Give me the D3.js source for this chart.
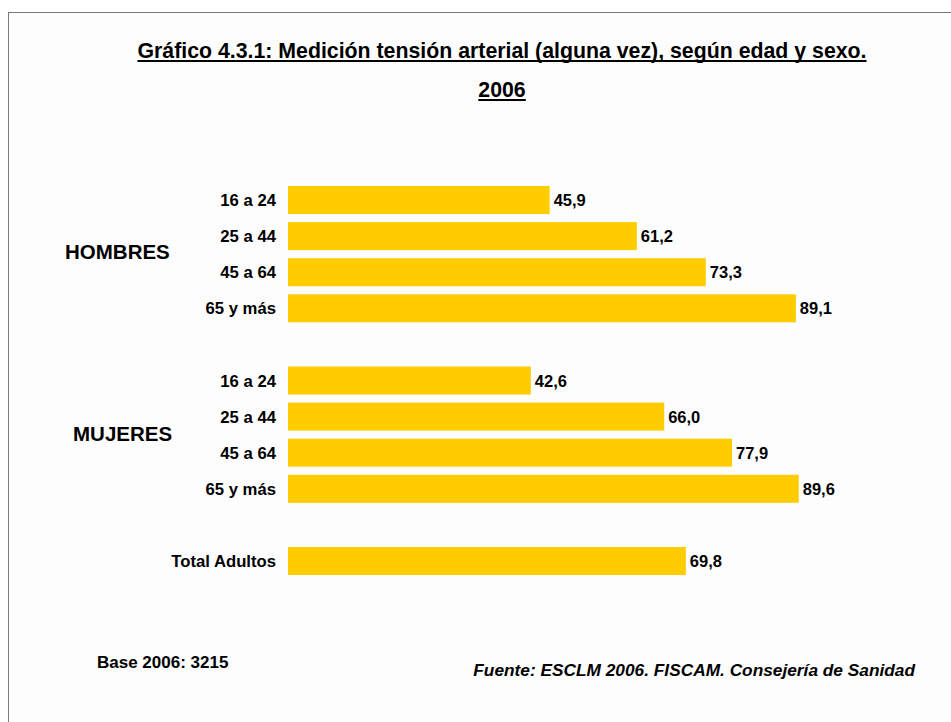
<!DOCTYPE html>
<html>
<head>
<meta charset="utf-8">
<script src="https://cdn.jsdelivr.net/npm/d3@7"></script>
<style>
  html, body { margin: 0; padding: 0; background: #ffffff; }
  svg text { font-family: "Liberation Sans", Arial, sans-serif; font-weight: bold; fill: #000; }
</style>
</head>
<body>
<svg id="chart" width="951" height="722"></svg>
<script>
// ---- data ----
const slots = ["h1", "h2", "h3", "h4", "gap1", "m1", "m2", "m3", "m4", "gap2", "total"];
const barSlots = ["h1", "h2", "h3", "h4", "m1", "m2", "m3", "m4", "total"];
const categoryLabels = ["16 a 24", "25 a 44", "45 a 64", "65 y más", "16 a 24", "25 a 44", "45 a 64", "65 y más", "Total Adultos"];
const values = [45.9, 61.2, 73.3, 89.1, 42.6, 66.0, 77.9, 89.6, 69.8];
const groupLabels = ["HOMBRES", "MUJERES"];
const groupSlots = [["h1", "h4"], ["m1", "m4"]];
const titleLines = ["Gráfico 4.3.1: Medición tensión arterial (alguna vez), según edad y sexo.", "2006"];
const baseText = "Base 2006: 3215";
const sourceText = "Fuente: ESCLM 2006. FISCAM. Consejería de Sanidad";

const svg = d3.select("#chart");

// frame
svg.append("rect").attr("x", 8.5).attr("y", 12.5).attr("width", 1000).attr("height", 800)
  .attr("fill", "#fdfdfd").attr("stroke", "#7a7a7a").attr("stroke-width", 1);

const x = d3.scaleLinear().domain([0, 100]).range([288, 288 + 570]);
const y = d3.scaleBand().domain(slots).range([181.96, 579.06]).paddingInner(0.224).paddingOuter(0.112);

const fmt = v => d3.format(".1f")(v).replace(".", ",");

const data = barSlots.map((s, i) => ({ slot: s, label: categoryLabels[i], value: values[i] }));

svg.append("g").selectAll("rect").data(data).join("rect")
  .attr("x", x(0)).attr("y", d => y(d.slot))
  .attr("width", d => x(d.value) - x(0)).attr("height", y.bandwidth())
  .attr("fill", "#ffcc00");

svg.append("g").selectAll("text").data(data).join("text")
  .attr("x", d => x(d.value) + 4).attr("y", d => y(d.slot) + y.bandwidth() / 2 + 6)
  .attr("font-size", "16.5px").text(d => fmt(d.value));

svg.append("g").selectAll("text").data(data).join("text")
  .attr("x", 276).attr("y", d => y(d.slot) + y.bandwidth() / 2 + 6)
  .attr("text-anchor", "end").attr("font-size", "16.7px").text(d => d.label);

// group labels
groupLabels.forEach((g, i) => {
  const [a, b] = groupSlots[i];
  const cy = (y(a) + y(b) + y.bandwidth()) / 2;
  svg.append("text").attr("x", i === 0 ? 65 : 73).attr("y", cy + 5 + (i === 0 ? 0 : 1))
    .attr("font-size", "20.5px").text(g);
});

// title
const titleY = [58, 97];
titleLines.forEach((t, i) => {
  const tx = svg.append("text").attr("x", 502).attr("y", titleY[i])
    .attr("text-anchor", "middle").attr("font-size", "21.3px").text(t);
  const bb = tx.node().getBBox();
  svg.append("line").attr("x1", bb.x).attr("x2", bb.x + bb.width)
    .attr("y1", titleY[i] + 3).attr("y2", titleY[i] + 3)
    .attr("stroke", "#000").attr("stroke-width", 2);
});

svg.append("text").attr("x", 97).attr("y", 668).attr("font-size", "17px").text(baseText);
svg.append("text").attr("x", 915).attr("y", 676).attr("text-anchor", "end")
  .attr("font-size", "17.3px").attr("font-style", "italic").text(sourceText);
</script>
</body>
</html>
